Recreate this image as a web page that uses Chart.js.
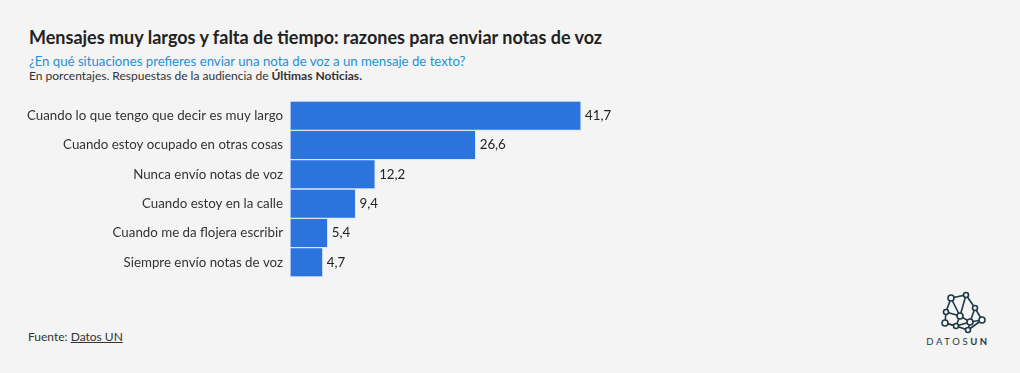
<!DOCTYPE html>
<html>
<head>
<meta charset="utf-8">
<script src="https://cdn.jsdelivr.net/npm/chart.js@4"></script>
<style>
  html, body { margin: 0; padding: 0; background: #f4f4f4; }
  body { width: 1020px; height: 373px; position: relative; overflow: hidden; font-family: Lato, "Noto Sans", sans-serif; color: #333; }
  #title { position: absolute; left: 29px; top: 26px; font-size: 18px; font-weight: bold; color: #222; }
  #subtitle { position: absolute; left: 29px; top: 53px; font-size: 13.2px; color: #2a8fd0; }
  #note { position: absolute; left: 29px; top: 68px; font-size: 12px; color: #333; }
  #source { position: absolute; left: 28px; top: 329px; font-size: 12px; color: #333; }
  #source u { text-decoration: underline; }
  #chartbox { position: absolute; left: 0; top: 101px; width: 1020px; height: 176px; }
  #logo { position: absolute; left: 918px; top: 290px; width: 80px; height: 60px; }
</style>
</head>
<body>
<div id="title">Mensajes muy largos y falta de tiempo: razones para enviar notas de voz</div>
<div id="subtitle">¿En qué situaciones prefieres enviar una nota de voz a un mensaje de texto?</div>
<div id="note">En porcentajes. Respuestas de la audiencia de <b>Últimas Noticias.</b></div>
<div id="chartbox"><canvas id="razones_plot"></canvas></div>
<div id="source">Fuente: <u>Datos UN</u></div>
<svg id="logo" viewBox="0 0 80 60">
  <g stroke="#1d3a44" stroke-width="1.6" fill="none">
    <polyline points="33,8 48,5 57,18 64,30 52,32 42,26 33,8"/>
    <polyline points="33,8 28,22 42,26 48,5"/>
    <polyline points="28,22 27,33 38,36 42,26"/>
    <polyline points="38,36 52,32 57,18"/>
    <polyline points="27,33 38,36 50,40 64,30"/>
    <polyline points="52,32 50,40"/>
  </g>
  <g fill="#f4f4f4" stroke="#1d3a44" stroke-width="1.6">
    <circle cx="33" cy="8" r="3"/><circle cx="48" cy="5" r="2.5"/><circle cx="57" cy="18" r="2.5"/>
    <circle cx="64" cy="30" r="3"/><circle cx="52" cy="32" r="3"/><circle cx="42" cy="26" r="3"/>
    <circle cx="28" cy="22" r="2.5"/><circle cx="27" cy="33" r="3"/><circle cx="38" cy="36" r="2.5"/>
    <circle cx="50" cy="40" r="2.5"/>
  </g>
  <text x="40" y="55" text-anchor="middle" font-family="Lato, sans-serif" font-size="9.5" letter-spacing="2.6" fill="#1d3a44">DATOS<tspan font-weight="bold">UN</tspan></text>
</svg>
<script>
const razones_labels = [
  "Cuando lo que tengo que decir es muy largo",
  "Cuando estoy ocupado en otras cosas",
  "Nunca envío notas de voz",
  "Cuando estoy en la calle",
  "Cuando me da flojera escribir",
  "Siempre envío notas de voz"
];
const razones_values = [41.7, 26.6, 12.2, 9.4, 5.4, 4.7];

const bar_value_labels = {
  id: 'bar_value_labels',
  afterDatasetsDraw(chart) {
    const ctx = chart.ctx;
    ctx.save();
    ctx.font = '13.3px Lato, "Noto Sans", sans-serif';
    ctx.fillStyle = '#222';
    ctx.textBaseline = 'middle';
    chart.getDatasetMeta(0).data.forEach((bar, i) => {
      const txt = razones_values[i].toFixed(1).replace('.', ',');
      ctx.fillText(txt, bar.x + 4, bar.y);
    });
    ctx.restore();
  }
};

let razones_plot_canvas = document.querySelector("#razones_plot");

const razones_plot_chart = new Chart(
  razones_plot_canvas,
  {
    type: 'bar',
    data: {
      labels: razones_labels,
      datasets: [{
        data: razones_values,
        backgroundColor: '#2b74dd',
        borderColor: '#dbe6f7',
        borderWidth: 1,
        borderSkipped: false,
        barPercentage: 1,
        categoryPercentage: 1
      }]
    },
    options: {
      indexAxis: 'y',
      maintainAspectRatio: false,
      animation: false,
      layout: { padding: { left: 0, right: 32, top: 0, bottom: 0 } },
      scales: {
        x: {
          display: false,
          min: 0,
          max: 100
        },
        y: {
          afterFit(scale) {
            scale.width = 290;
            scale.paddingTop = 0;
            scale.paddingBottom = 0;
          },
          grid: { display: false, drawTicks: false },
          border: { display: false },
          ticks: {
            padding: 7,
            color: '#333',
            font: { family: 'Lato, "Noto Sans", sans-serif', size: 13.3 }
          }
        }
      },
      plugins: {
        legend: { display: false },
        tooltip: { enabled: false }
      }
    },
    plugins: [bar_value_labels]
  }
);
</script>
</body>
</html>
